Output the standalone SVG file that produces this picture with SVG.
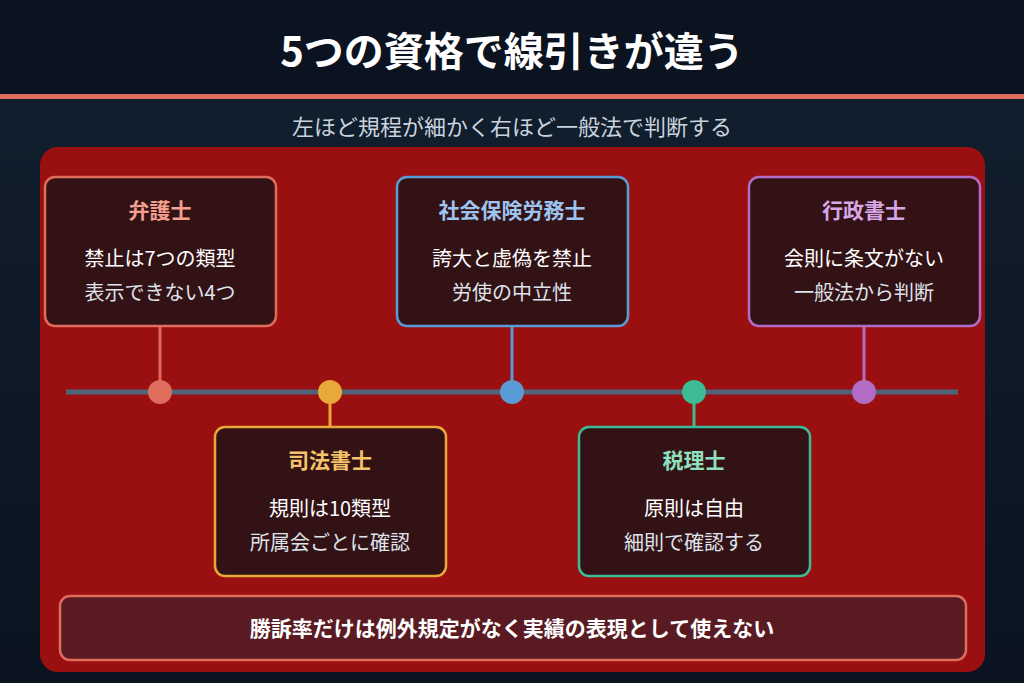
<svg xmlns="http://www.w3.org/2000/svg" width="1024" height="683" viewBox="0 0 1024 683">
<defs>
<linearGradient id="bg" x1="0" y1="0" x2="0" y2="1"><stop offset="0" stop-color="#12202f"/><stop offset="1" stop-color="#0b1320"/></linearGradient>
<style>
text{font-family:"Noto Sans CJK JP","Noto Sans",sans-serif;text-anchor:middle}
.box{fill:#331216;stroke-width:2.5}
.h{font-size:21px;font-weight:700}
.l1{font-size:20px;fill:#ffffff}
.l2{font-size:20px;fill:#dfe3ea}
</style>
</defs>
<rect width="1024" height="683" fill="url(#bg)"/>
<rect width="1024" height="95" fill="#0b1220"/>
<rect y="94" width="1024" height="5" fill="#e06c5c"/>
<text x="512" y="66" font-size="40" font-weight="700" fill="#ffffff">5つの資格で線引きが違う</text>
<text x="512" y="135" font-size="22" fill="#c9d3df">左ほど規程が細かく右ほど一般法で判断する</text>
<rect x="40" y="147" width="945" height="525" rx="18" fill="#9a0f0f"/>
<g id="connectors">
<line x1="66" y1="392" x2="958" y2="392" stroke="#4f6478" stroke-width="5"/>
<line x1="160" y1="326" x2="160" y2="392" stroke="#e06c5c" stroke-width="3"/>
<line x1="330" y1="392" x2="330" y2="427" stroke="#e8a83a" stroke-width="3"/>
<line x1="512" y1="326" x2="512" y2="392" stroke="#5b9bd5" stroke-width="3"/>
<line x1="694" y1="392" x2="694" y2="427" stroke="#3dbb94" stroke-width="3"/>
<line x1="864" y1="326" x2="864" y2="392" stroke="#b26cc6" stroke-width="3"/>
<circle cx="160" cy="392" r="12" fill="#e06c5c"/>
<circle cx="330" cy="392" r="12" fill="#e8a83a"/>
<circle cx="512" cy="392" r="12" fill="#5b9bd5"/>
<circle cx="694" cy="392" r="12" fill="#3dbb94"/>
<circle cx="864" cy="392" r="12" fill="#b26cc6"/>
</g>
<g id="n1"><rect class="box" x="45" y="177" width="231" height="149" rx="10" stroke="#e06c5c"/>
<text class="h" x="160" y="218" fill="#f5a08f">弁護士</text><text class="l1" x="160" y="266">禁止は7つの類型</text><text class="l2" x="160" y="300">表示できない4つ</text></g>
<g id="n2"><rect class="box" x="397" y="177" width="231" height="149" rx="10" stroke="#5b9bd5"/>
<text class="h" x="512" y="218" fill="#9cc4ee">社会保険労務士</text><text class="l1" x="512" y="266">誇大と虚偽を禁止</text><text class="l2" x="512" y="300">労使の中立性</text></g>
<g id="n3"><rect class="box" x="749" y="177" width="231" height="149" rx="10" stroke="#b26cc6"/>
<text class="h" x="864" y="218" fill="#d8a6e6">行政書士</text><text class="l1" x="864" y="266">会則に条文がない</text><text class="l2" x="864" y="300">一般法から判断</text></g>
<g id="n4"><rect class="box" x="215" y="427" width="231" height="149" rx="10" stroke="#e8a83a"/>
<text class="h" x="330" y="468" fill="#f5c46a">司法書士</text><text class="l1" x="330" y="516">規則は10類型</text><text class="l2" x="330" y="550">所属会ごとに確認</text></g>
<g id="n5"><rect class="box" x="579" y="427" width="231" height="149" rx="10" stroke="#3dbb94"/>
<text class="h" x="694" y="468" fill="#8fe0bf">税理士</text><text class="l1" x="694" y="516">原則は自由</text><text class="l2" x="694" y="550">細則で確認する</text></g>
<g id="note"><rect x="60" y="596" width="906" height="64" rx="10" fill="#5a1a22" stroke="#e06c5c" stroke-width="2.5"/>
<text x="512" y="636" font-size="21" font-weight="700" fill="#ffffff">勝訴率だけは例外規定がなく実績の表現として使えない</text></g>
</svg>
